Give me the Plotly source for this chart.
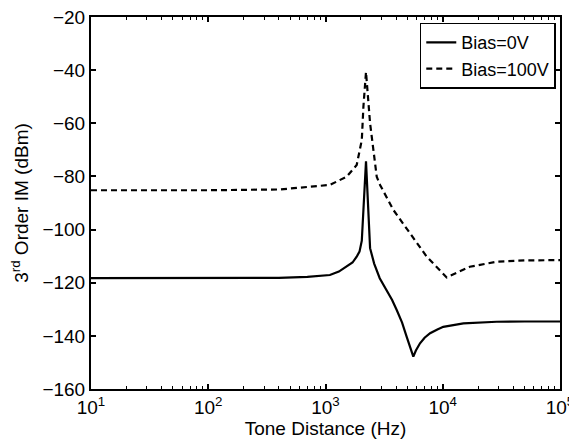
import plotly.graph_objects as go

# Bias = 0 V (solid)
freq_0v = [10, 100, 400, 700, 1090, 1300, 1515, 1700, 1845, 1950, 2040, 2215, 2400,
           2600, 2900, 3330, 3700, 4050, 4500, 4920, 5300, 5610, 5900, 6400, 7000, 7800,
           9000, 10100, 15000, 28800, 50000, 100000]
im3_0v = [-118.3, -118.3, -118.2, -117.8, -117.1, -115.8, -114.0, -112.4, -110.2, -108.3, -104.2, -74.3, -107.0,
          -112.8, -118.3, -122.7, -126.5, -130.3, -135.0, -140.3, -144.5, -147.8, -145.5, -142.8, -140.7, -139.0,
          -137.6, -136.6, -135.3, -134.7, -134.6, -134.6]

# Bias = 100 V (dashed)
freq_100v = [10, 100, 410, 790, 1090, 1515, 1845, 2040, 2105, 2215, 2400, 2735,
             2920, 3790, 5260, 7300, 10800, 17000, 28800, 50000, 100000]
im3_100v = [-85.2, -85.2, -84.9, -83.9, -83.2, -80.1, -75.7, -66.3, -53.8, -40.7, -60.0, -80.1,
            -83.2, -92.6, -101.4, -110.2, -118.0, -114.0, -112.1, -111.6, -111.5]

x_ticks = [10, 100, 1000, 10000, 100000]
x_ticktext = ["10<sup>1</sup>", "10<sup>2</sup>", "10<sup>3</sup>", "10<sup>4</sup>", "10<sup>5</sup>"]
y_ticks = [-160, -140, -120, -100, -80, -60, -40, -20]

FONT = "Liberation Sans, Arial, Helvetica, sans-serif"
FS = 19

minor_vals = [m * 10 ** d for d in range(1, 5) for m in range(2, 10)]

fig = go.Figure()
fig.add_trace(go.Scatter(
    x=freq_0v, y=im3_0v, mode="lines", name="Bias=0V",
    line=dict(color="black", width=2.2),
))
fig.add_trace(go.Scatter(
    x=freq_100v, y=im3_100v, mode="lines", name="Bias=100V",
    line=dict(color="black", width=2.2, dash="6px,4px"),
))

# the page body adds an 8px offset, so margins are shifted to compensate
fig.update_layout(
    width=577, height=443,
    margin=dict(l=83, r=25, t=9, b=62),
    paper_bgcolor="white", plot_bgcolor="white",
    font=dict(family=FONT, size=FS, color="black"),
    showlegend=True,
    legend=dict(
        x=0.991, y=0.985, xanchor="right", yanchor="top",
        bordercolor="black", borderwidth=1.5, bgcolor="white",
        font=dict(size=18), tracegroupgap=0,
    ),
    xaxis=dict(
        type="log", range=[1, 5], automargin=False,
        tickvals=x_ticks, ticktext=x_ticktext, ticklabeloverflow="allow",
        ticks="inside", ticklen=5, tickwidth=1.5, tickcolor="black",
        showline=True, linecolor="black", linewidth=2, mirror="ticks",
        showgrid=False, zeroline=False,
        minor=dict(tickvals=minor_vals, ticks="inside", ticklen=3, tickwidth=1.2,
                   tickcolor="black", showgrid=False),
        title=dict(text="Tone Distance (Hz)", standoff=0, font=dict(size=FS)),
        tickfont=dict(size=FS),
    ),
    yaxis=dict(
        range=[-160, -20], tickvals=y_ticks, automargin=False,
        ticklabeloverflow="allow",
        ticks="inside", ticklen=5, tickwidth=1.5, tickcolor="black",
        showline=True, linecolor="black", linewidth=2, mirror="ticks",
        showgrid=False, zeroline=False,
        title=dict(text="3<sup>rd</sup> Order IM (dBm)", standoff=12, font=dict(size=FS)),
        tickfont=dict(size=FS),
    ),
)

fig.write_html("out.html")
